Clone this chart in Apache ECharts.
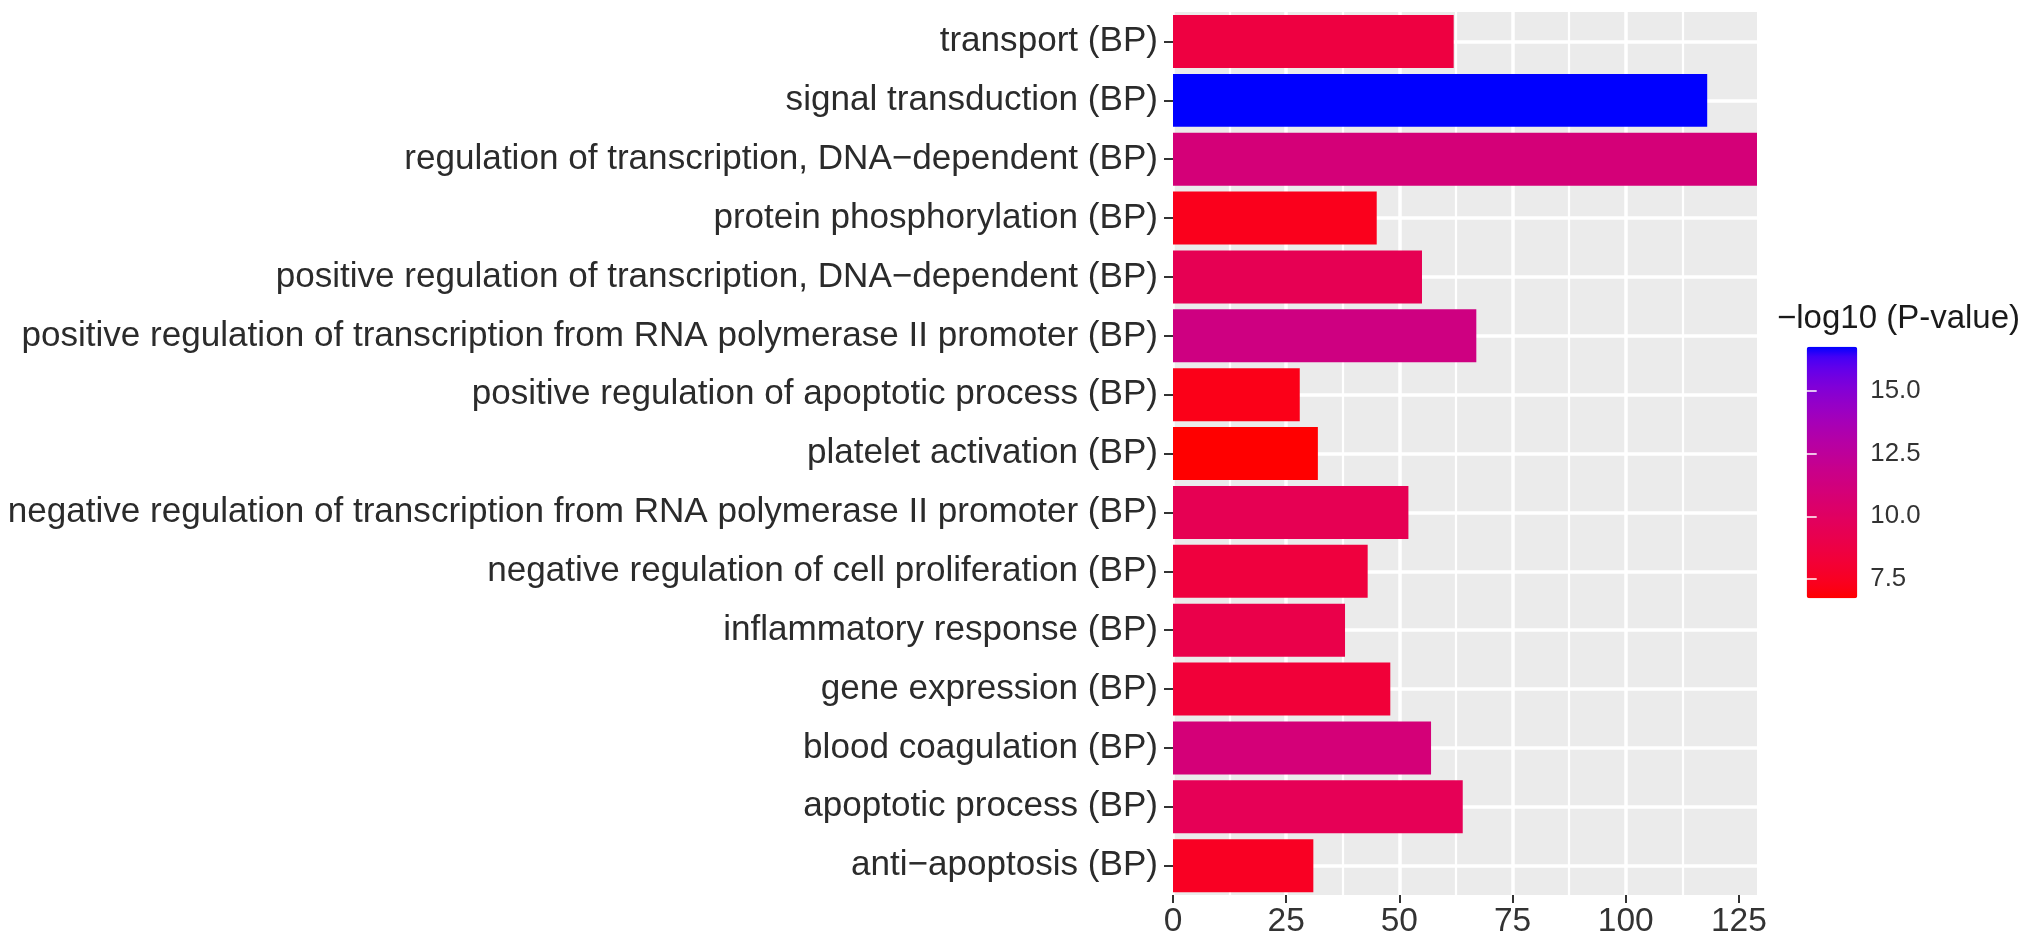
<!DOCTYPE html>
<html><head><meta charset="utf-8">
<script src="https://cdn.jsdelivr.net/npm/echarts@6/dist/echarts.min.js"></script>
<style>html,body{margin:0;padding:0;background:#fff;} #main{width:2031px;height:945px;}</style>
</head><body><div id="main"></div>
<script>
const categories = [
  "transport (BP)",
  "signal transduction (BP)",
  "regulation of transcription, DNA\u2212dependent (BP)",
  "protein phosphorylation (BP)",
  "positive regulation of transcription, DNA\u2212dependent (BP)",
  "positive regulation of transcription from RNA polymerase II promoter (BP)",
  "positive regulation of apoptotic process (BP)",
  "platelet activation (BP)",
  "negative regulation of transcription from RNA polymerase II promoter (BP)",
  "negative regulation of cell proliferation (BP)",
  "inflammatory response (BP)",
  "gene expression (BP)",
  "blood coagulation (BP)",
  "apoptotic process (BP)",
  "anti\u2212apoptosis (BP)"
];
const geneCounts = [62, 118, 129, 45, 55, 67, 28, 32, 52, 43, 38, 48, 57, 64, 31];
const negLog10P  = [8.6, 16.75, 11.0, 7.3, 9.4, 11.4, 7.2, 6.74, 9.4, 8.5, 9.0, 8.3, 11.0, 9.5, 7.5];
const xTicks = [0, 25, 50, 75, 100, 125];
const legendTicks = [7.5, 10.0, 12.5, 15.0];
const legendTitle = "\u2212log10 (P-value)";

// Lab interpolation (like ggplot's scale_fill_gradient low=red, high=blue)
function s2l(c){c/=255;return c<=0.04045?c/12.92:Math.pow((c+0.055)/1.055,2.4);}
function l2s(c){c=Math.max(0,Math.min(1,c));return c<=0.0031308?12.92*c:1.055*Math.pow(c,1/2.4)-0.055;}
const Xn=0.95047,Yn=1,Zn=1.08883;
function f(t){return t>216/24389?Math.cbrt(t):(t*24389/27+16)/116;}
function fi(t){return t>6/29?t*t*t:3*(6/29)*(6/29)*(t-4/29);}
function rgb2lab(r,g,b){
  const R=s2l(r),G=s2l(g),B=s2l(b);
  const X=0.4124*R+0.3576*G+0.1805*B, Y=0.2126*R+0.7152*G+0.0722*B, Z=0.0193*R+0.1192*G+0.9505*B;
  const fx=f(X/Xn),fy=f(Y/Yn),fz=f(Z/Zn);
  return [116*fy-16,500*(fx-fy),200*(fy-fz)];
}
function lab2rgb(L,a,b){
  const fy=(L+16)/116,fx=fy+a/500,fz=fy-b/200;
  const X=Xn*fi(fx),Y=Yn*fi(fy),Z=Zn*fi(fz);
  const R=3.2406*X-1.5372*Y-0.4986*Z, G=-0.9689*X+1.8758*Y+0.0415*Z, B=0.0557*X-0.2040*Y+1.0570*Z;
  return 'rgb('+Math.round(l2s(R)*255)+','+Math.round(l2s(G)*255)+','+Math.round(l2s(B)*255)+')';
}
const labLow=rgb2lab(255,0,0), labHigh=rgb2lab(0,0,255);
const stops=[];
for(let i=0;i<=24;i++){const t=i/24;stops.push(lab2rgb(labLow[0]+(labHigh[0]-labLow[0])*t,labLow[1]+(labHigh[1]-labLow[1])*t,labLow[2]+(labHigh[2]-labLow[2])*t));}

const pMin = Math.min.apply(null, negLog10P), pMax = Math.max.apply(null, negLog10P);
const FONT = "'Liberation Sans', Arial, Helvetica, sans-serif";

const chart = echarts.init(document.getElementById('main'), null, {renderer:'canvas'});
const option = {
  animation: false,
  backgroundColor: '#ffffff',
  title: {
    text: legendTitle, left: 1777, top: 302, padding: 0,
    textStyle: {fontFamily: FONT, fontSize: 33, fontWeight: 'normal', color: '#1a1a1a'}
  },
  grid: [
    {left: 1173, top: 12.07, width: 584, height: 883, show: true, backgroundColor: '#EBEBEB', borderWidth: 0},
    {left: 1806.7, top: 346.7, width: 50.6, height: 251.6, show: false}
  ],
  xAxis: [
    {
      type: 'value', gridIndex: 0, min: 0, max: 129, interval: 25,
      axisLine: {show: false},
      axisTick: {show: true, length: 8, lineStyle: {color: '#333', width: 2}, customValues: xTicks},
      axisLabel: {customValues: xTicks, fontFamily: FONT, fontSize: 33.5, color: '#333', margin: 10},
      splitLine: {show: true, showMaxLine: false, lineStyle: {color: '#ffffff', width: 3.5}},
      minorTick: {show: false, splitNumber: 2},
      minorSplitLine: {show: true, lineStyle: {color: '#ffffff', width: 2.2}}
    },
    {type: 'value', gridIndex: 1, min: 0, max: 1, show: false}
  ],
  yAxis: [
    {
      type: 'category', gridIndex: 0, data: categories, inverse: true,
      axisLine: {show: false},
      axisTick: {show: true, alignWithLabel: true, length: 9, lineStyle: {color: '#333', width: 2}},
      axisLabel: {fontFamily: FONT, fontSize: 35.1, color: '#2b2b2b', margin: 15},
      splitLine: {show: true, alignWithLabel: true, lineStyle: {color: '#ffffff', width: 3.5}}
    },
    {
      type: 'value', gridIndex: 1, min: pMin, max: pMax, position: 'right', z: 10,
      axisLine: {show: false}, splitLine: {show: false},
      axisTick: {show: true, inside: true, length: 10, customValues: legendTicks, lineStyle: {color: '#ffffff', width: 1.5}},
      axisLabel: {customValues: legendTicks, formatter: v => v.toFixed(1), fontFamily: FONT, fontSize: 25.8, color: '#333', margin: 13}
    },
    {
      type: 'value', gridIndex: 1, min: pMin, max: pMax, position: 'left', z: 10,
      axisLine: {show: false}, splitLine: {show: false},
      axisTick: {show: true, inside: true, length: 10, customValues: legendTicks, lineStyle: {color: '#ffffff', width: 1.5}},
      axisLabel: {show: false}
    }
  ],
  visualMap: {
    type: 'continuous', min: pMin, max: pMax, dimension: 2, seriesIndex: 0,
    orient: 'vertical', left: 1806.7, top: 346.7, itemWidth: 50.6, itemHeight: 251.6,
    padding: 0, calculable: false, text: null, showLabel: false, z: 1,
    inRange: {color: stops}
  },
  series: [{
    type: 'bar', xAxisIndex: 0, yAxisIndex: 0, barWidth: '90%',
    encode: {x: 0, y: 1},
    data: categories.map((c, i) => [geneCounts[i], c, negLog10P[i]]),
    z: 3
  }]
};
chart.setOption(option);
</script></body></html>
